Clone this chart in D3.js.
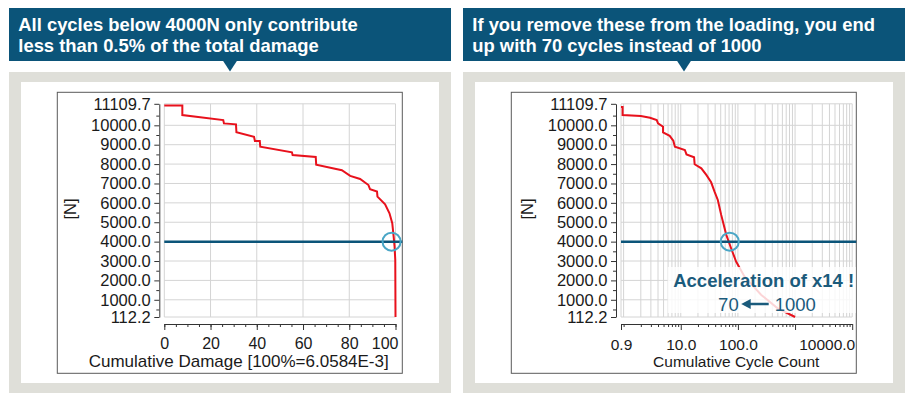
<!DOCTYPE html>
<html>
<head>
<meta charset="utf-8">
<script src="https://cdn.jsdelivr.net/npm/d3@7"></script>
<style>
  body { margin: 0; background: #fff; }
  text { font-family: "Liberation Sans", Arial, sans-serif; }
</style>
</head>
<body>
<div id="canvas"></div>
<script>
// force axis ticks (both charts)
var forceTicks = [112.2, 1000, 2000, 3000, 4000, 5000, 6000, 7000, 8000, 9000, 10000, 11109.7];
var forceMinor = [500, 1500, 2500, 3500, 4500, 5500, 6500, 7500, 8500, 9500, 10500];

// left chart: cumulative damage [%] vs force [N]
var damagePct = [0, 7.8, 7.8, 25.5, 25.8, 31, 31.2, 38.8, 39.2, 41.3, 41.5, 55.2, 55.5, 65.5, 65.7,
  76.8, 80.4, 84.7, 88.3, 89, 92, 92.2, 95.5, 97.4, 98.6, 99.2, 99.6, 99.9, 100];
var damageForce = [11020, 11020, 10530, 10270, 10100, 10050, 9640, 9410, 9190, 9190, 8900, 8610, 8470, 8370, 7970,
  7680, 7390, 7230, 6920, 6700, 6580, 6320, 5930, 5460, 4950, 4260, 3740, 3050, 112.2];
var damageTicks = [0, 20, 40, 60, 80, 100];
var damageMinor = d3.range(0, 101, 5);

// right chart: cumulative cycle count (log) vs force [N]
var cycleCount = [0.9, 0.96, 0.96, 2.0, 2.9, 3.8, 4.0, 4.9, 4.9, 6.4, 7.4, 7.9, 11.8, 12.6, 17.1, 17.5,
  22.9, 28, 34, 39, 44.5, 51, 62.6, 76, 93, 130, 254, 490, 1000];
var cycleForce = [10950, 10950, 10530, 10480, 10390, 10270, 10100, 9930, 9640, 9460, 9210, 8900, 8730, 8500, 8350, 7990,
  7780, 7440, 7060, 6580, 6150, 5380, 4350, 3660, 2970, 2200, 1260, 570, 112.2];
var cycleTicks = [0.9, 10, 100, 10000];
var cycleMajor = [0.9, 10, 100, 1000, 10000];

var limitForce = 4000;
var damageAtLimit = 98.3, cyclesAtLimit = 72;

var headlines = [
  ["All cycles below 4000N only contribute", "less than 0.5% of the total damage"],
  ["If you remove these from the loading, you end", "up with 70 cycles instead of 1000"]
];
var xTitles = ["Cumulative Damage [100%=6.0584E-3]", "Cumulative Cycle Count"];
var accelText = "Acceleration of x14 !";
var cyclesBefore = "1000", cyclesAfter = "70";

var width = 914, height = 399;
var darkBlue = "#0b5479", red = "#e8111c", ringBlue = "#4aa6c6";

var svg = d3.select("#canvas").append("svg")
  .attr("width", width).attr("height", height);

// y scale shared by both charts
var y = d3.scaleLinear().domain([112.2, 11109.7]).range([317, 103.8]);
var fmt = d3.format(".1f");

function drawPanel(px, i) {
  var g = svg.append("g");
  // headline box + pointer
  g.append("rect").attr("x", px).attr("y", 8).attr("width", 442).attr("height", 53).attr("fill", darkBlue);
  g.append("path").attr("d", "M" + (px + 213.5) + ",60 L" + (px + 228.5) + ",60 L" + (px + 221) + ",71.5 Z").attr("fill", darkBlue);
  g.selectAll("text.head").data(headlines[i]).enter().append("text")
    .attr("class", "head")
    .attr("x", px + 9.3).attr("y", (d, k) => 30.7 + k * 21)
    .attr("fill", "#fff").attr("font-size", 18.4).attr("font-weight", "bold")
    .text(d => d);
  // gray panel, white card, chart frame
  g.append("rect").attr("x", px).attr("y", 72).attr("width", 442).attr("height", 321).attr("fill", "#dfdfd9");
  g.append("rect").attr("x", px + 12).attr("y", 82).attr("width", 418).attr("height", 301).attr("fill", "#fff");
  g.append("rect").attr("x", px + 48.3).attr("y", 92.3).attr("width", 345).attr("height", 281)
    .attr("fill", "none").attr("stroke", "#5a5a5a").attr("stroke-width", 1);
}

function drawYAxis(g, left) {
  g.append("g").attr("transform", "translate(" + left + ",0)")
    .call(d3.axisLeft(y).tickValues(forceMinor).tickSize(3).tickFormat(""))
    .call(a => a.select(".domain").remove());
  var ax = g.append("g").attr("transform", "translate(" + left + ",0)")
    .call(d3.axisLeft(y).tickValues(forceTicks).tickSize(5).tickSizeOuter(0).tickPadding(3.6).tickFormat(fmt));
  ax.selectAll("text").attr("font-size", 16.5).attr("fill", "#1a1a1a").attr("font-family", null);
  g.selectAll(".tick line, .domain").attr("stroke", "#333");
}

function drawGridY(g, x0, x1) {
  g.selectAll("line.hgrid").data(forceTicks).enter().append("line").attr("class", "hgrid")
    .attr("x1", x0).attr("x2", x1).attr("y1", d => y(d)).attr("y2", d => y(d))
    .attr("stroke", "#d4d4d4").attr("stroke-width", 1);
}

// ---------- left chart ----------
function drawDamage(px, cx) {
  var g = svg.append("g");
  var x = d3.scaleLinear().domain([0, 100]).range([cx + 164.3, cx + 395.5]);
  drawGridY(g, x(0), x(100));
  g.selectAll("line.vgrid").data(damageTicks).enter().append("line").attr("class", "vgrid")
    .attr("x1", d => x(d)).attr("x2", d => x(d)).attr("y1", y(11109.7)).attr("y2", y(112.2))
    .attr("stroke", "#d4d4d4").attr("stroke-width", 1);

  drawYAxis(g, x(0) - 5);
  g.append("g").attr("transform", "translate(0,324)")
    .call(d3.axisBottom(x).tickValues(damageMinor).tickSize(3).tickFormat(""))
    .call(a => a.select(".domain").remove());
  var xa = g.append("g").attr("transform", "translate(0,324)")
    .call(d3.axisBottom(x).tickValues(damageTicks).tickSize(6).tickSizeOuter(0).tickPadding(8).tickFormat(d3.format("d")));
  xa.selectAll("text").attr("font-size", 16).attr("fill", "#1a1a1a").attr("font-family", null);
  // last label is pushed inside the frame
  xa.selectAll("text").filter(d => d === 100).attr("text-anchor", "end").attr("x", 2.5);
  g.selectAll(".tick line, .domain").attr("stroke", "#333");

  var line = d3.line().x(d => x(d[0])).y(d => y(d[1]));
  g.append("path").datum(d3.zip(damagePct, damageForce)).attr("d", line)
    .attr("fill", "none").attr("stroke", red).attr("stroke-width", 2);

  // 4000 N marker
  g.append("line").attr("x1", x(0)).attr("x2", px + 393.3).attr("y1", y(limitForce)).attr("y2", y(limitForce))
    .attr("stroke", darkBlue).attr("stroke-width", 2.5);
  g.append("circle").attr("cx", x(damageAtLimit)).attr("cy", y(limitForce)).attr("r", 9)
    .attr("fill", "none").attr("stroke", ringBlue).attr("stroke-width", 2);

  g.append("text").attr("x", cx + 238.7).attr("y", 367.3).attr("text-anchor", "middle")
    .attr("font-size", 17).attr("fill", "#1a1a1a").text(xTitles[0]);
  g.append("text").attr("transform", "translate(" + (cx + 76) + ",209) rotate(-90)")
    .attr("text-anchor", "middle").attr("font-size", 16.5).attr("fill", "#1a1a1a").text("[N]");
}

// ---------- right chart ----------
function drawCycles(px, cx) {
  var g = svg.append("g");
  var x = d3.scaleLog().domain([0.9, 10000]).range([cx + 164.3, cx + 395.5]);
  var gridVals = [0.9];
  [1, 10, 100, 1000].forEach(p => d3.range(1, 10).forEach(m => gridVals.push(m * p)));
  gridVals.push(10000);
  var minorVals = gridVals.filter(v => cycleMajor.indexOf(v) < 0);

  drawGridY(g, x(0.9), x(10000));
  g.selectAll("line.vgrid").data(gridVals).enter().append("line").attr("class", "vgrid")
    .attr("x1", d => x(d)).attr("x2", d => x(d)).attr("y1", y(11109.7)).attr("y2", y(112.2))
    .attr("stroke", "#d4d4d4").attr("stroke-width", 1);

  drawYAxis(g, x(0.9) - 5);
  g.append("g").attr("transform", "translate(0,324)")
    .call(d3.axisBottom(x).tickValues(minorVals).tickSize(3).tickFormat(""))
    .call(a => a.select(".domain").remove());
  g.append("g").attr("transform", "translate(0,324)")
    .call(d3.axisBottom(x).tickValues(cycleMajor).tickSize(6).tickFormat(""))
    .call(a => a.select(".domain").remove());
  var xa = g.append("g").attr("transform", "translate(0,324)")
    .call(d3.axisBottom(x).tickValues(cycleTicks).tickSize(0).tickSizeOuter(0).tickPadding(14.5).tickFormat(fmt));
  xa.selectAll("text").attr("font-size", 15.5).attr("fill", "#1a1a1a").attr("font-family", null);
  // last label is pushed inside the frame
  xa.selectAll("text").filter(d => d === 10000).attr("text-anchor", "end").attr("x", 2.5);
  g.selectAll(".tick line, .domain").attr("stroke", "#333");

  var line = d3.line().x(d => x(d[0])).y(d => y(d[1]));
  g.append("path").datum(d3.zip(cycleCount, cycleForce)).attr("d", line)
    .attr("fill", "none").attr("stroke", red).attr("stroke-width", 2);

  g.append("line").attr("x1", x(0.9)).attr("x2", px + 393.3).attr("y1", y(limitForce)).attr("y2", y(limitForce))
    .attr("stroke", darkBlue).attr("stroke-width", 2.5);
  g.append("circle").attr("cx", x(cyclesAtLimit)).attr("cy", y(limitForce)).attr("r", 9)
    .attr("fill", "none").attr("stroke", ringBlue).attr("stroke-width", 2);

  // annotation with translucent backing
  g.append("rect").attr("x", cx + 211).attr("y", 267).attr("width", 188).attr("height", 46)
    .attr("fill", "#fff").attr("fill-opacity", 0.82);
  g.append("text").attr("x", cx + 307).attr("y", 286.7).attr("text-anchor", "middle")
    .attr("font-size", 18.5).attr("font-weight", "bold").attr("fill", "#1b5b7c").text(accelText);
  g.append("text").attr("x", cx + 282).attr("y", 311).attr("text-anchor", "end")
    .attr("font-size", 18.5).attr("fill", "#1b5b7c").text(cyclesAfter);
  g.append("text").attr("x", cx + 318).attr("y", 311)
    .attr("font-size", 18.5).attr("fill", "#1b5b7c").text(cyclesBefore);
  g.append("line").attr("x1", cx + 312).attr("x2", cx + 292).attr("y1", 304).attr("y2", 304)
    .attr("stroke", "#1b5b7c").attr("stroke-width", 2.5);
  g.append("path").attr("d", "M" + (cx + 284.5) + ",304 L" + (cx + 294) + ",299 L" + (cx + 294) + ",309 Z")
    .attr("fill", "#1b5b7c");

  g.append("text").attr("x", cx + 279.5).attr("y", 367.3).attr("text-anchor", "middle")
    .attr("font-size", 15.5).attr("fill", "#1a1a1a").text(xTitles[1]);
  g.append("text").attr("transform", "translate(" + (cx + 76) + ",209) rotate(-90)")
    .attr("text-anchor", "middle").attr("font-size", 16.5).attr("fill", "#1a1a1a").text("[N]");
}

drawPanel(9, 0);
drawPanel(463, 1);
drawDamage(9, 0);
drawCycles(463, 456.7);
</script>
</body>
</html>
